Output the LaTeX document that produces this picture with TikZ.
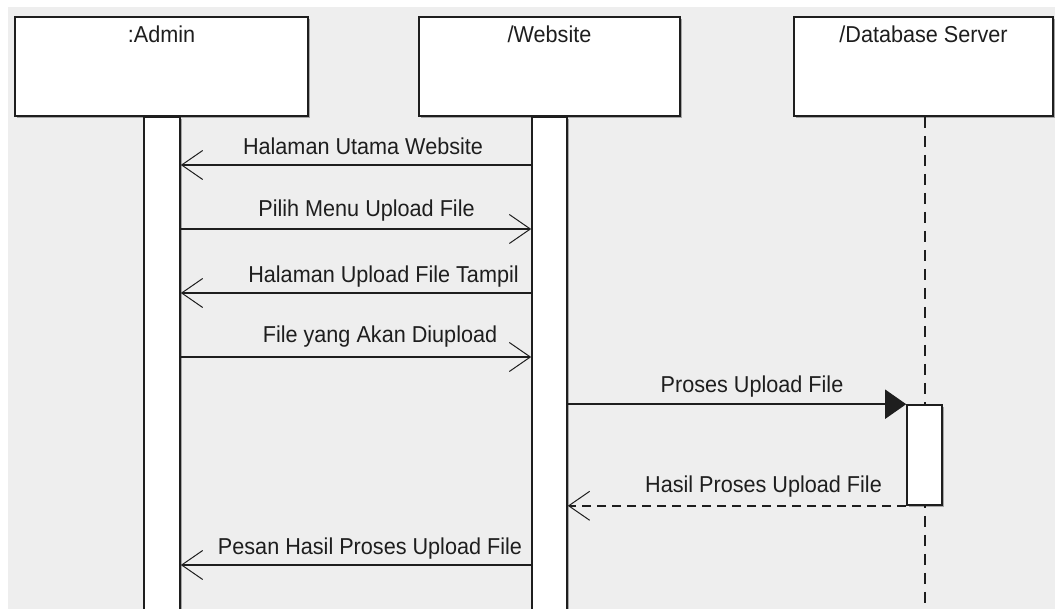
\documentclass[tikz,border=0pt]{standalone}
\usepackage{fontspec}
\setmainfont[FakeStretch=0.94]{Liberation Sans}
\usetikzlibrary{arrows.meta,shadows}

\definecolor{canvasgray}{HTML}{EEEEEE}
\definecolor{ink}{HTML}{1E1E1E}

\begin{document}
\begin{tikzpicture}[x=1pt,y=-1pt,
  every node/.style={font=\fontsize{23}{27}\selectfont, text=ink},
  boxshadow/.style={drop shadow={shadow xshift=2pt,shadow yshift=-2pt,opacity=0.3,fill=black}},
  lifebox/.style={rectangle, draw=ink, line width=1.6pt, fill=white, inner sep=0pt, boxshadow},
  actbox/.style={rectangle, draw=ink, line width=1.6pt, fill=white, inner sep=0pt, minimum width=35pt, boxshadow},
  msg/.style={draw=ink, line width=1.6pt},
  openhead/.style={-{Straight Barb[length=21pt,width=29pt,line width=1pt]}},
  fullhead/.style={-{Triangle[length=21pt,width=29pt]}},
  reply/.style={dash pattern=on 9pt off 6pt},
  lifeline/.style={draw=ink, line width=1.6pt, dash pattern=on 11pt off 8pt},
  msglabel/.style={anchor=base, inner sep=0pt}
]
\useasboundingbox (0,0) rectangle (1055,609);
\clip (0,0) rectangle (1055,609);

% canvas
\fill[white] (0,0) rectangle (1055,609);
\fill[canvasgray] (8,7) rectangle (1060,615);

% participant heads
\node[lifebox, minimum width=293pt, minimum height=99pt] (admin) at (161.5,66.5) {};
\node[lifebox, minimum width=261pt, minimum height=99pt] (web)   at (549.5,66.5) {};
\node[lifebox, minimum width=259pt, minimum height=99pt] (db)    at (923.5,66.5) {};

\node[msglabel] (admint) at (admin.north |- 0,43) {:Admin};
\node[msglabel] (webt)   at (web.north |- 0,43)   {/Website};
\node[msglabel] (dbt)    at (db.north |- 0,43)    {/Database Server};

% database lifeline
\coordinate (dbend) at (925,609);
\draw[lifeline] (db.south -| dbend) -- (dbend);

% activation bars
\node[actbox, minimum width=36pt, minimum height=520pt, anchor=north] (aact) at (162,116) {};
\node[actbox, minimum height=520pt, anchor=north] (wact) at (549.5,116) {};
\node[actbox, minimum height=100pt] (dbact) at (924.5,455) {};

% messages
\draw[msg, openhead] (wact.west |- 0,165) -- (aact.east |- 0,165);
\node[msglabel] (m1) at (363,155) {Halaman Utama Website};

\draw[msg, openhead] (aact.east |- 0,229) -- (wact.west |- 0,229);
\node[msglabel] (m2) at (366.5,217) {Pilih Menu Upload File};

\draw[msg, openhead] (wact.west |- 0,293) -- (aact.east |- 0,293);
\node[msglabel] (m3) at (383.5,283) {Halaman Upload File Tampil};

\draw[msg, openhead] (aact.east |- 0,357) -- (wact.west |- 0,357);
\node[msglabel] (m4) at (380,343) {File yang Akan Diupload};

\draw[msg, fullhead] (wact.east |- dbact.north) -- (dbact.north west);
\node[msglabel] (m5) at (752,393) {Proses Upload File};

\draw[msg, reply, openhead] (dbact.south west) -- (wact.east |- dbact.south);
\node[msglabel] (m6) at (763.5,492) {Hasil Proses Upload File};

\draw[msg, openhead] (wact.west |- 0,565) -- (aact.east |- 0,565);
\node[msglabel] (m7) at (370,554) {Pesan Hasil Proses Upload File};
\end{tikzpicture}
\end{document}
